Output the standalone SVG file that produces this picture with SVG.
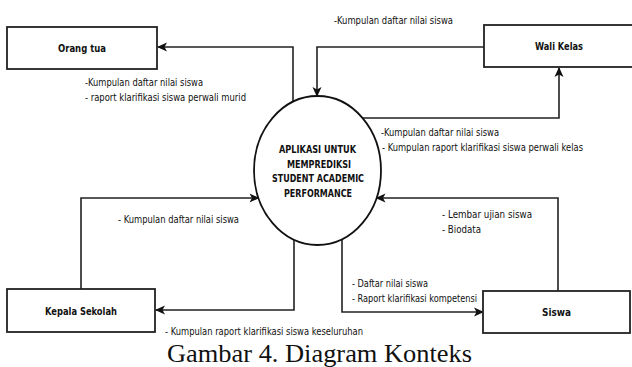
<svg xmlns="http://www.w3.org/2000/svg" width="632" height="367" viewBox="0 0 632 367">
<defs>
<marker id="arr" markerWidth="10" markerHeight="10" viewBox="0 0 10 10" refX="9" refY="5" orient="auto" markerUnits="userSpaceOnUse">
<path d="M0,0.5 L10,5 L0,9.5 L2.5,5 Z" fill="#111"/>
</marker>
<style>
.box{fill:#fff;stroke:#222;stroke-width:1.8}
.proc{fill:#fff;stroke:#111;stroke-width:1.8}
.edge{fill:none;stroke:#222;stroke-width:1.6}
.nl{font-family:"DejaVu Sans Condensed","DejaVu Sans",sans-serif;font-size:11px;font-weight:bold;fill:#111}
.lbl{font-family:"DejaVu Sans Condensed","DejaVu Sans",sans-serif;font-size:10.5px;fill:#111}
.cap{font-family:"Liberation Serif","Times New Roman",serif;font-size:25.5px;fill:#111}
</style>
</defs>
<rect width="632" height="367" fill="#fff"/>
<g id="connectors">
<path class="edge" d="M293,102 V47 H158" marker-end="url(#arr)"/>
<path class="edge" d="M484,47 H317 V96" marker-end="url(#arr)"/>
<path class="edge" d="M362.5,118 H559 V68" marker-end="url(#arr)"/>
<path class="edge" d="M81,289 V198 H258.5" marker-end="url(#arr)"/>
<path class="edge" d="M294,240 V310 H156" marker-end="url(#arr)"/>
<path class="edge" d="M558,291 V198 H376.5" marker-end="url(#arr)"/>
<path class="edge" d="M342,240 V312 H483" marker-end="url(#arr)"/>
</g>
<g id="labels">
<text class="lbl" x="334" y="24" textLength="119" lengthAdjust="spacingAndGlyphs">-Kumpulan daftar nilai siswa</text>
<text class="lbl" x="85" y="86" textLength="118" lengthAdjust="spacingAndGlyphs">-Kumpulan daftar nilai siswa</text>
<text class="lbl" x="85" y="101" textLength="161" lengthAdjust="spacingAndGlyphs">- raport klarifikasi siswa perwali murid</text>
<text class="lbl" x="381" y="136" textLength="118" lengthAdjust="spacingAndGlyphs">-Kumpulan daftar nilai siswa</text>
<text class="lbl" x="382" y="150.5" textLength="201" lengthAdjust="spacingAndGlyphs">- Kumpulan raport klarifikasi siswa perwali kelas</text>
<text class="lbl" x="118" y="223" textLength="121" lengthAdjust="spacingAndGlyphs">- Kumpulan daftar nilai siswa</text>
<text class="lbl" x="442" y="218" textLength="90" lengthAdjust="spacingAndGlyphs">- Lembar ujian siswa</text>
<text class="lbl" x="442" y="233" textLength="39" lengthAdjust="spacingAndGlyphs">- Biodata</text>
<text class="lbl" x="352" y="286.5" textLength="76" lengthAdjust="spacingAndGlyphs">- Daftar nilai siswa</text>
<text class="lbl" x="352" y="301.5" textLength="125" lengthAdjust="spacingAndGlyphs">- Raport klarifikasi kompetensi</text>
<text class="lbl" x="165" y="335" textLength="198" lengthAdjust="spacingAndGlyphs">- Kumpulan raport klarifikasi siswa keseluruhan</text>
</g>
<g id="orang-tua">
<rect class="box" x="7" y="27" width="150" height="42"/>
<text class="nl" x="58" y="52" textLength="48" lengthAdjust="spacingAndGlyphs">Orang tua</text>
</g>
<g id="wali-kelas">
<rect class="box" x="484" y="25" width="160" height="42"/>
<text class="nl" x="535" y="50" textLength="48" lengthAdjust="spacingAndGlyphs">Wali Kelas</text>
</g>
<g id="kepala-sekolah">
<rect class="box" x="7" y="289" width="148" height="43"/>
<text class="nl" x="45" y="315" textLength="72" lengthAdjust="spacingAndGlyphs">Kepala Sekolah</text>
</g>
<g id="siswa">
<rect class="box" x="483" y="291" width="147" height="42"/>
<text class="nl" x="542" y="316" textLength="29" lengthAdjust="spacingAndGlyphs">Siswa</text>
</g>
<g id="aplikasi">
<ellipse class="proc" cx="317.5" cy="170.5" rx="63.5" ry="74.5"/>
<text class="nl" x="279" y="153" textLength="77" lengthAdjust="spacingAndGlyphs">APLIKASI UNTUK</text>
<text class="nl" x="287" y="167.5" textLength="64" lengthAdjust="spacingAndGlyphs">MEMPREDIKSI</text>
<text class="nl" x="272" y="182" textLength="92" lengthAdjust="spacingAndGlyphs">STUDENT ACADEMIC</text>
<text class="nl" x="284" y="196.5" textLength="68" lengthAdjust="spacingAndGlyphs">PERFORMANCE</text>
</g>
<text class="cap" x="167" y="362" textLength="305" lengthAdjust="spacingAndGlyphs">Gambar 4. Diagram Konteks</text>
</svg>
